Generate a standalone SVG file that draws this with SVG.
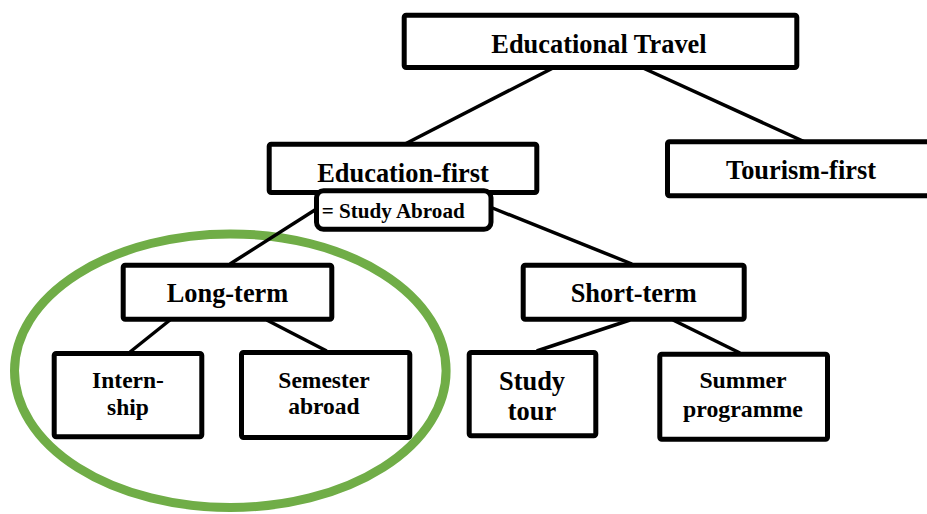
<svg xmlns="http://www.w3.org/2000/svg" width="927" height="514" viewBox="0 0 927 514">
<style>
.box{fill:#fff;stroke:#000;stroke-width:5;stroke-linejoin:round}
.lbl{font-family:"Liberation Serif","Times New Roman",serif;font-weight:bold;fill:#000;text-anchor:middle}
.l26{font-size:26.4px}
.l24{font-size:23.8px}
.l23{font-size:23.5px}
.conn line{stroke:#000;stroke-width:3.5}
</style>
<rect width="927" height="514" fill="#fff"/>
<ellipse id="highlight" cx="230.3" cy="370.7" rx="215.8" ry="136.8" fill="none" stroke="#70ad47" stroke-width="9"/>
<g id="connectors" class="conn">
<line x1="553" y1="68" x2="405" y2="144"/>
<line x1="643" y1="68" x2="805" y2="142"/>
<line x1="318" y1="208" x2="230" y2="264"/>
<line x1="490" y1="207" x2="632" y2="264"/>
<line x1="170" y1="320" x2="130" y2="352"/>
<line x1="266.7" y1="320" x2="326.7" y2="351"/>
<line x1="630" y1="320" x2="536.7" y2="351"/>
<line x1="673" y1="320" x2="740" y2="353"/>
</g>
<g id="educational-travel">
<rect class="box" x="404.2" y="15.2" width="392.6" height="52.3" rx="2"/>
<text class="lbl l26" x="599" y="53">Educational Travel</text>
</g>
<g id="tourism-first">
<rect class="box" x="667.5" y="141.8" width="280" height="54" rx="2"/>
<text class="lbl l26" x="801" y="179">Tourism-first</text>
</g>
<g id="education-first">
<rect class="box" x="269.2" y="144.2" width="267.6" height="48.3" rx="2"/>
<text class="lbl l26" x="403" y="182">Education-first</text>
</g>
<g id="study-abroad">
<rect class="box" x="316.5" y="190.8" width="174.5" height="38.5" rx="7"/>
<text class="lbl" x="321.7" y="218.3" style="font-size:21.5px;text-anchor:start" textLength="143" lengthAdjust="spacingAndGlyphs">= Study Abroad</text>
</g>
<g id="long-term">
<rect class="box" x="123.2" y="265.2" width="208.6" height="54" rx="2"/>
<text class="lbl l26" x="227.5" y="301.7">Long-term</text>
</g>
<g id="short-term">
<rect class="box" x="523.2" y="265.2" width="221" height="54" rx="2"/>
<text class="lbl l26" x="633.7" y="301.7">Short-term</text>
</g>
<g id="internship">
<rect class="box" x="54.2" y="353.5" width="147.6" height="83.3" rx="2"/>
<text class="lbl l23" x="128" y="388.3">Intern-</text>
<text class="lbl l23" x="128" y="415">ship</text>
</g>
<g id="semester-abroad">
<rect class="box" x="241.5" y="352.5" width="168.3" height="85" rx="2"/>
<text class="lbl l23" x="324" y="387.7">Semester</text>
<text class="lbl l23" x="324" y="414.3">abroad</text>
</g>
<g id="study-tour">
<rect class="box" x="469.2" y="352.5" width="126.6" height="83.3" rx="2"/>
<text class="lbl l26" x="532" y="390">Study</text>
<text class="lbl l26" x="532" y="420">tour</text>
</g>
<g id="summer-programme">
<rect class="box" x="659.8" y="354.2" width="167.7" height="85" rx="2"/>
<text class="lbl l24" x="743" y="388.3">Summer</text>
<text class="lbl l24" x="743" y="416.7">programme</text>
</g>
</svg>
